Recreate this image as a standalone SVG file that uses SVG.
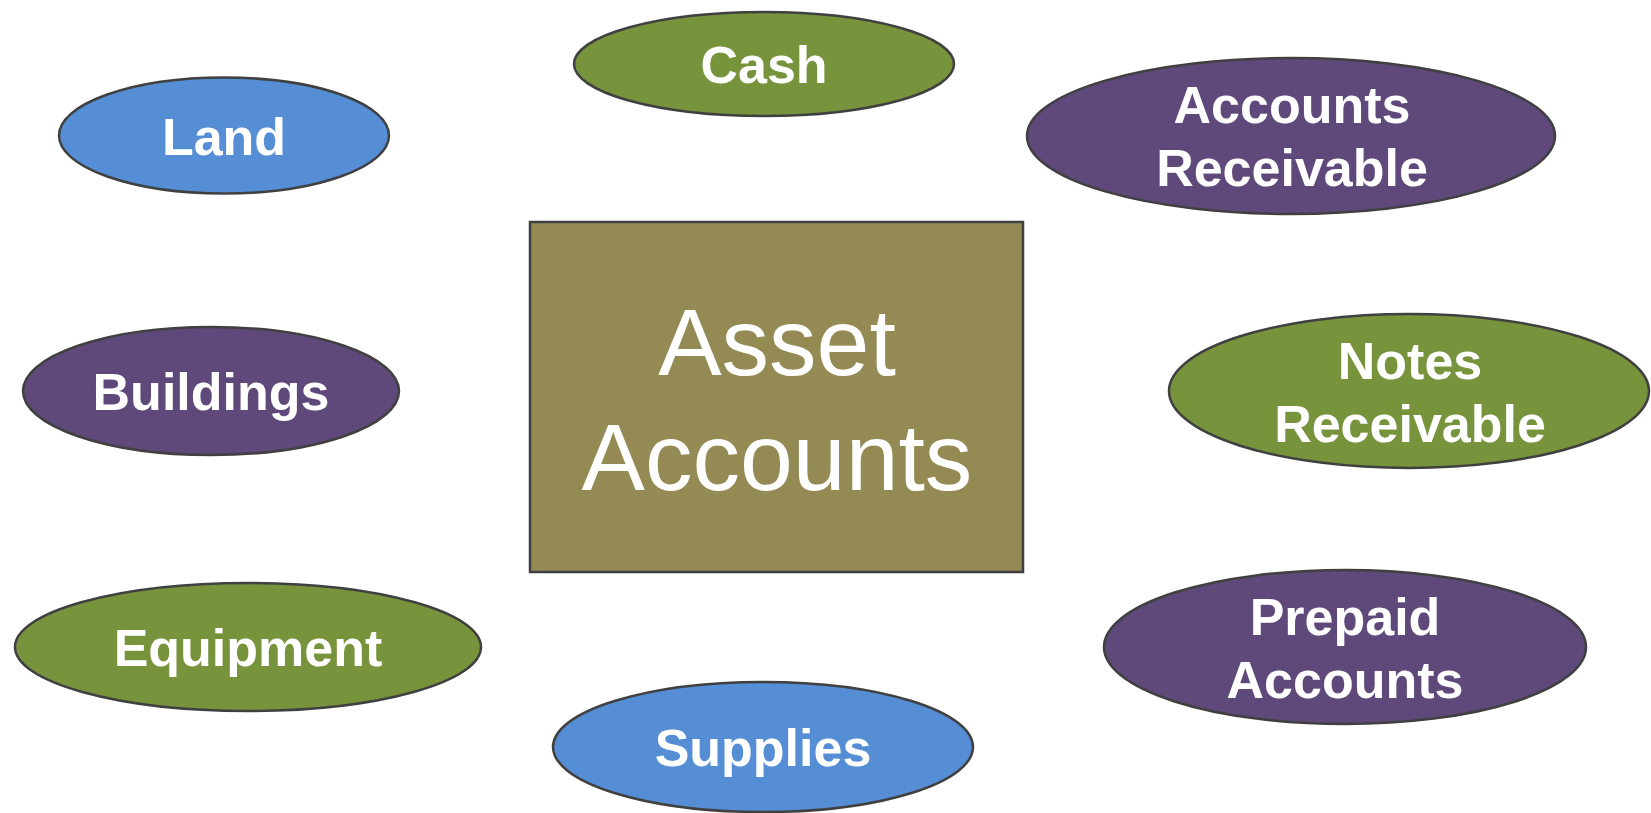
<svg xmlns="http://www.w3.org/2000/svg" width="1651" height="813" viewBox="0 0 1651 813">
<style>
.n{stroke:#404040;stroke-width:2.5}
.g{fill:#77933C}
.p{fill:#5F497A}
.b{fill:#558ED5}
.o{fill:#948A54}
.t{font-family:"Liberation Sans",Arial,sans-serif;font-weight:bold;font-size:52px;fill:#FFFFFF;text-anchor:middle}
.c{font-family:"Liberation Sans",Arial,sans-serif;font-size:95px;fill:#FFFFFF;text-anchor:middle}
</style>
<rect width="1651" height="813" fill="#FFFFFF"/>
<g id="connectors"></g>
<g id="center">
<rect class="n o" x="530" y="222" width="493" height="350"/>
<text class="c" x="777" y="375">Asset</text>
<text class="c" x="777" y="490">Accounts</text>
</g>
<g id="cash">
<ellipse class="n g" cx="764" cy="64" rx="190" ry="52"/>
<text class="t" x="764" y="83">Cash</text>
</g>
<g id="land">
<ellipse class="n b" cx="224" cy="135.5" rx="165" ry="58"/>
<text class="t" x="224" y="155">Land</text>
</g>
<g id="accounts-receivable">
<ellipse class="n p" cx="1291" cy="136" rx="264" ry="78"/>
<text class="t" x="1292" y="123">Accounts</text>
<text class="t" x="1292" y="186">Receivable</text>
</g>
<g id="buildings">
<ellipse class="n p" cx="211" cy="391" rx="188" ry="64"/>
<text class="t" x="211" y="410">Buildings</text>
</g>
<g id="notes-receivable">
<ellipse class="n g" cx="1409" cy="391" rx="240" ry="77"/>
<text class="t" x="1410" y="379">Notes</text>
<text class="t" x="1410" y="442">Receivable</text>
</g>
<g id="equipment">
<ellipse class="n g" cx="248" cy="647" rx="233" ry="64"/>
<text class="t" x="248" y="666">Equipment</text>
</g>
<g id="prepaid-accounts">
<ellipse class="n p" cx="1345" cy="647" rx="241" ry="77"/>
<text class="t" x="1345" y="635">Prepaid</text>
<text class="t" x="1345" y="698">Accounts</text>
</g>
<g id="supplies">
<ellipse class="n b" cx="763" cy="747" rx="210" ry="65"/>
<text class="t" x="763" y="766">Supplies</text>
</g>
</svg>
